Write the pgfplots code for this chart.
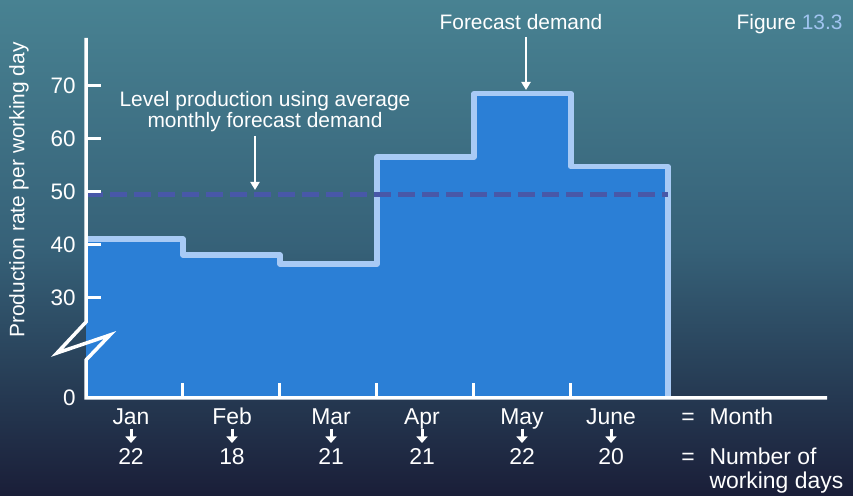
\documentclass[border=0pt]{standalone}
\usepackage{pgfplots}
\pgfplotsset{compat=1.18}
\usepackage{fontspec}
\setmainfont{Liberation Sans}
\usetikzlibrary{arrows.meta}
\definecolor{bgtop}{RGB}{72,130,146}
\definecolor{bgmid}{RGB}{54,97,120}
\definecolor{bgbot}{RGB}{26,30,56}
\definecolor{barblue}{RGB}{43,127,214}
\definecolor{outl}{RGB}{168,202,245}
\definecolor{dashblue}{RGB}{72,88,168}
\definecolor{figblue}{RGB}{160,196,240}
\begin{document}
\begin{tikzpicture}[x=1bp,y=1bp]
\shade[top color=bgtop, bottom color=bgbot, middle color=bgmid] (0,0) rectangle (853,496);
\useasboundingbox (0,0) rectangle (853,496);
\begin{axis}[
  at={(86bp,98bp)}, anchor=south west,
  scale only axis, width=741bp, height=360bp,
  xmin=0, xmax=7.64, ymin=11, ymax=79,
  clip=false,
  axis line style={draw=none},
  axis on top,
  xtick pos=bottom, ytick pos=left,
  xtick={1,2,3,4,5}, xticklabels={},
  ytick={11,30,40,50,60,70}, yticklabels={0,30,40,50,60,70},
  tick align=inside,
  major tick length=15bp,
  tick style={white, line width=3bp},
  yticklabel style={font=\fontsize{22.5}{26}\selectfont, text=white, xshift=-7bp},
  /pgf/number format/assume math mode=true,
]
\addplot[fill=barblue, draw=none] coordinates {(0,11)(0,41)(1,41)(1,38)(2,38)(2,36.3)(3,36.3)(3,56.5)(4,56.5)(4,68.5)(5,68.5)(5,54.7)(6,54.7)(6,11)};
\addplot[const plot, draw=outl, line width=5.5bp, line join=round] coordinates {(0,41)(1,38)(2,36.3)(3,56.5)(4,68.5)(5,54.7)(6,54.7)(6,11)};
\addplot[dashblue, line width=5bp, dash pattern=on 17bp off 7bp] coordinates {(0,49.4)(6,49.4)};
\end{axis}
\draw[white, line width=3.5bp, line join=miter] (86,458) -- (86,174) -- (57,143) -- (110,161) -- (86,136) -- (86,98) -- (827,98);
\node[text=white, font=\fontsize{21}{24}\selectfont, rotate=90] at (19,306) {Production rate per working day};
\node[text=white, font=\fontsize{21}{24}\selectfont, anchor=base] at (265,389) {Level production using average};
\node[text=white, font=\fontsize{21}{24}\selectfont, anchor=base] at (265,368) {monthly forecast demand};
\node[text=white, font=\fontsize{21}{24}\selectfont, anchor=base] at (521,466) {Forecast demand};
\node[text=white, font=\fontsize{21}{24}\selectfont, anchor=base east] at (846,466) {Figure \textcolor{figblue}{13.3}};
\draw[white, line width=2.5bp, -{Triangle[length=8bp,width=9bp]}] (255,360) -- (255,306);
\draw[white, line width=2.5bp, -{Triangle[length=8bp,width=9bp]}] (526,459) -- (526,406);
\foreach \xx/\mm/\dd in {131/Jan/22, 232/Feb/18, 331/Mar/21, 422/Apr/21, 522/May/22, 611/June/20} {
  \node[text=white, font=\fontsize{23}{26}\selectfont, anchor=base] at (\xx,71) {\mm};
  \node[text=white, font=\fontsize{23}{26}\selectfont, anchor=base] at (\xx,31) {\dd};
  \draw[white, line width=3bp, -{Triangle[length=6.5bp,width=11bp]}] (\xx,67) -- (\xx,53);
}
\node[text=white, font=\fontsize{23}{26}\selectfont, anchor=base] at (688,71) {=};
\node[text=white, font=\fontsize{23}{26}\selectfont, anchor=base west] at (706,71) {Month};
\node[text=white, font=\fontsize{23}{26}\selectfont, anchor=base] at (688,31) {=};
\node[text=white, font=\fontsize{23}{26}\selectfont, anchor=base west] at (706,31) {Number of};
\node[text=white, font=\fontsize{23}{26}\selectfont, anchor=base west] at (706,7) {working days};
\end{tikzpicture}
\end{document}
